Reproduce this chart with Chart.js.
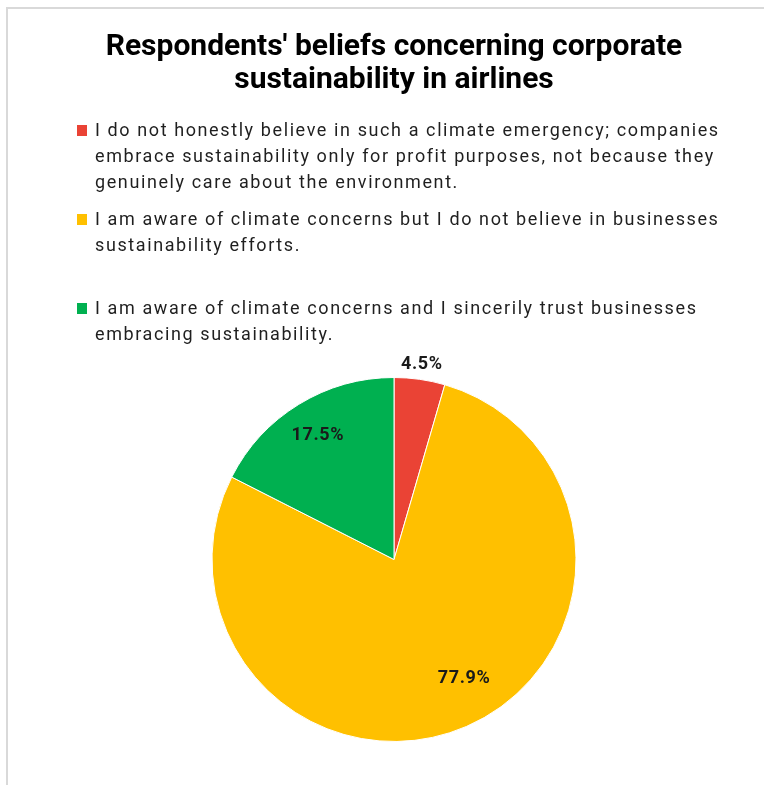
<html>
<head>
  <meta charset="utf-8">
  <title>Airline sustainability beliefs</title>
  <script src="https://cdn.jsdelivr.net/npm/chart.js"></script>
  <style>
    body {
      margin: 0;
      background: #fff;
      font-family: 'Roboto', sans-serif;
    }
    .frame {
      position: absolute;
      left: 6px;
      top: 7px;
      width: 800px;
      height: 800px;
      border-left: 2px solid #d9d9d9;
      border-top: 2px solid #d9d9d9;
    }
    canvas {
      position: absolute;
      left: 0;
      top: 0;
    }
  </style>
</head>
<body>
<div class="frame"></div>
<canvas id="beliefsChart" width="764" height="785"></canvas>

<script>
const answerLines = [
  ['I do not honestly believe in such a climate emergency; companies',
   'embrace sustainability only for profit purposes, not because they',
   'genuinely care about the environment.'],
  ['I am aware of climate concerns but I do not believe in businesses',
   'sustainability efforts.'],
  ['I am aware of climate concerns and I sincerily trust businesses',
   'embracing sustainability.']
];
const shares = [4.5, 77.9, 17.5];
const sliceColors = ['#ea4335', '#ffc000', '#00b050'];

const titleLines = ["Respondents' beliefs concerning corporate", 'sustainability in airlines'];

// legend block: wrapped lines with a square marker in front of each answer
const answerLegend = {
  id: 'answerLegend',
  afterDraw(chart) {
    const ctx = chart.ctx;
    const itemTops = [131, 220, 309];
    const lineStep = 26;
    ctx.save();
    ctx.letterSpacing = '1.6px';
    ctx.font = '18px Roboto';
    ctx.textBaseline = 'middle';
    answerLines.forEach((lines, i) => {
      ctx.fillStyle = sliceColors[i];
      ctx.fillRect(77, itemTops[i] - 6, 10, 11);
      ctx.fillStyle = '#1f1f1f';
      lines.forEach((line, j) => {
        ctx.fillText(line, 95, itemTops[i] + j * lineStep);
      });
    });
    ctx.restore();
  }
};

// percentage labels, placed from each arc's own geometry
const sliceLabels = {
  id: 'sliceLabels',
  afterDatasetsDraw(chart) {
    const ctx = chart.ctx;
    const arcs = chart.getDatasetMeta(0).data;
    const placement = [
      { outside: 15, turn: 0 },
      { ratio: 0.76, turn: -7 },
      { ratio: 0.8, turn: 0 }
    ];
    ctx.save();
    ctx.letterSpacing = '0.6px';
    ctx.font = 'bold 18px Roboto';
    ctx.fillStyle = '#1a1a1a';
    ctx.textAlign = 'center';
    ctx.textBaseline = 'middle';
    arcs.forEach((arc, i) => {
      const p = arc.getProps(['x', 'y', 'startAngle', 'endAngle', 'outerRadius'], true);
      const mid = (p.startAngle + p.endAngle) / 2 + placement[i].turn * Math.PI / 180;
      const dist = placement[i].outside !== undefined
        ? p.outerRadius + placement[i].outside
        : p.outerRadius * placement[i].ratio;
      ctx.fillText(shares[i].toFixed(1) + '%', p.x + Math.cos(mid) * dist, p.y + Math.sin(mid) * dist);
    });
    ctx.restore();
  }
};

new Chart(document.getElementById('beliefsChart'), {
  type: 'pie',
  data: {
    labels: answerLines.map(l => l.join(' ')),
    datasets: [{
      data: shares,
      backgroundColor: sliceColors,
      borderColor: '#ffffff',
      borderWidth: 1,
      hoverOffset: 0
    }]
  },
  options: {
    responsive: false,
    animation: false,
    layout: {
      padding: { left: 24, right: 0, top: 0, bottom: 43 }
    },
    plugins: {
      legend: { display: false },
      tooltip: { enabled: false },
      title: {
        display: true,
        text: titleLines,
        color: '#000',
        font: { family: 'Roboto', size: 30, weight: 'bold', lineHeight: 1.1 },
        padding: { top: 31, bottom: 280 }
      }
    }
  },
  plugins: [answerLegend, sliceLabels]
});
</script>
</body>
</html>
